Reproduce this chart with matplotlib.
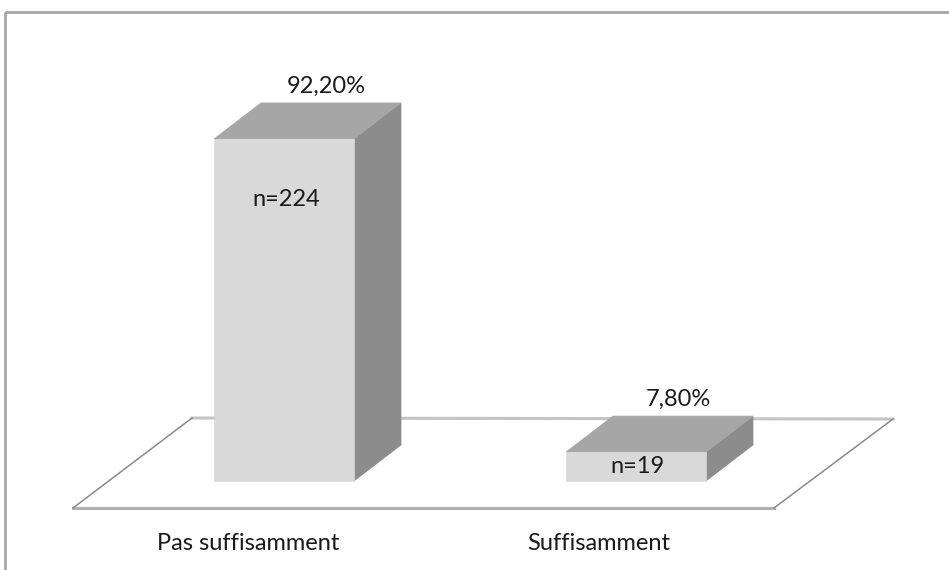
import matplotlib.pyplot as plt
from matplotlib.patches import Polygon, Rectangle

categories = ['Pas suffisamment', 'Suffisamment']
percents = [92.20, 7.80]
counts = [224, 19]
pct_labels = ['92,20%', '7,80%']

# layout (pixels, origin top-left)
W, H = 949, 570
base_y = 481        # bottom of bar front faces
px_per_pct = 3.71
bar_x0 = 214
bar_step = 352
bar_w = 140
dx, dy = 47, 36     # 3d depth of bars
font = ['Lato', 'DejaVu Sans']
txt_color = '#1a1a1a'
fs = 17

fig = plt.figure(figsize=(W / 100, H / 100), dpi=100)
ax = fig.add_axes([0, 0, 1, 1])
ax.set_xlim(0, W)
ax.set_ylim(H, 0)
ax.axis('off')

# outer chart border
ax.add_patch(Rectangle((5, 12), W + 20, H + 20, fill=False,
                       edgecolor='#a6a6a6', linewidth=2, zorder=1))

# floor
fl = (73, 508)
fr = (774, 508)
br = (893, 419)
bl = (192, 418)
ax.add_patch(Polygon([fl, fr, br, bl], closed=True, facecolor='white',
                     edgecolor='none', zorder=2))
ax.plot([bl[0], br[0]], [bl[1], br[1]], color='#c4c4c4', lw=2.2, zorder=3)
ax.plot([fl[0], fr[0]], [fl[1], fr[1]], color='#b0b0b0', lw=2.2, zorder=3)
ax.plot([fl[0], bl[0]], [fl[1], bl[1]], color='#8a8a8a', lw=1.1, zorder=3)
ax.plot([fr[0], br[0]], [fr[1], br[1]], color='#8a8a8a', lw=1.1, zorder=3)

for i, (cat, p, n, lab) in enumerate(zip(categories, percents, counts, pct_labels)):
    x0 = bar_x0 + i * bar_step
    x1 = x0 + bar_w
    top = base_y - p * px_per_pct
    h = base_y - top
    # side face
    ax.add_patch(Polygon([(x1, base_y), (x1 + dx, base_y - dy), (x1 + dx, top - dy), (x1, top)],
                         closed=True, facecolor='#8c8c8c', edgecolor='#8c8c8c', lw=0.5, zorder=4))
    # top face
    ax.add_patch(Polygon([(x0, top), (x1, top), (x1 + dx, top - dy), (x0 + dx, top - dy)],
                         closed=True, facecolor='#a6a6a6', edgecolor='#a6a6a6', lw=0.5, zorder=4))
    # front face
    ax.add_patch(Rectangle((x0, top), bar_w, h, facecolor='#d9d9d9',
                           edgecolor='#d9d9d9', lw=0.5, zorder=5))
    # labels
    cx = (x0 + x1 + dx) / 2
    ax.text(cx + 19, top - dy - 17, lab, ha='center', va='center',
            fontsize=fs, family=font, color=txt_color, zorder=6)
    ny = top + min(61, h / 2)
    ax.text((x0 + x1) / 2 + 2, ny, 'n=%d' % n, ha='center', va='center',
            fontsize=fs, family=font, color=txt_color, zorder=6)
    # category label under floor
    seg = (fr[0] - fl[0]) / len(categories)
    ax.text(fl[0] + seg * (i + 0.5), 544, cat, ha='center', va='center',
            fontsize=fs, family=font, color=txt_color, zorder=6)

fig.savefig('out.png', dpi=100)
